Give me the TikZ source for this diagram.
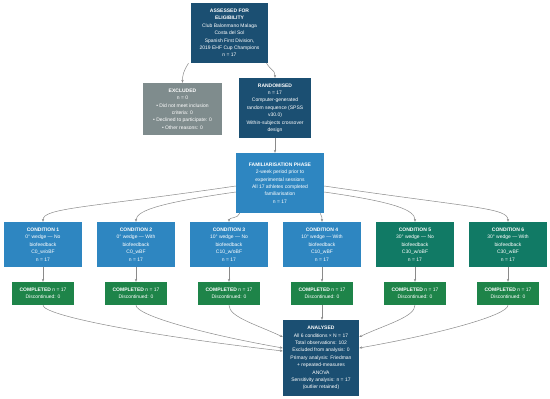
\documentclass[tikz,border=0pt]{standalone}
\usepackage{fontspec}
\setmainfont{Liberation Sans}
\usetikzlibrary{arrows.meta}
\definecolor{navy}{HTML}{1B4F72}
\definecolor{exgray}{HTML}{7F8C8D}
\definecolor{condblue}{HTML}{2E86C1}
\definecolor{condgreen}{HTML}{117A65}
\definecolor{compgreen}{HTML}{1E8449}
\definecolor{linegray}{HTML}{8A8A8A}
\begin{document}
\begin{tikzpicture}[x=1pt,y=-1pt,
  base/.style={draw=none, text=white, align=center, inner sep=1pt,
    font=\fontsize{5}{7.4}\selectfont},
  navybox/.style={base, fill=navy},
  exbox/.style={base, fill=exgray},
  condbox/.style={base, fill=condblue, minimum width=78pt, minimum height=45pt},
  condgbox/.style={base, fill=condgreen, minimum width=78pt, minimum height=45pt},
  compbox/.style={base, fill=compgreen, minimum width=62pt, minimum height=23pt},
  conn/.style={draw=linegray, line width=0.5pt, -{Stealth[length=3pt,width=2.4pt]}}
]
\useasboundingbox (0,0) rectangle (550,399);

\node[navybox, minimum width=77pt, minimum height=60pt] (top) at (229.5,33)
  {\textbf{ASSESSED FOR}\\\textbf{ELIGIBILITY}\\Club Balonmano Malaga\\Costa del Sol\\Spanish First Division,\\2019 EHF Cup Champions\\n = 17};

\node[exbox, minimum width=79pt, minimum height=52pt] (excl) at (182.5,109)
  {\textbf{EXCLUDED}\\n = 0\\• Did not meet inclusion\\criteria: 0\\• Declined to participate: 0\\• Other reasons: 0};

\node[navybox, minimum width=72pt, minimum height=60pt] (rand) at (275,108)
  {\textbf{RANDOMISED}\\n = 17\\Computer-generated\\random sequence (SPSS\\v30.0)\\Within-subjects crossover\\design};

\node[base, fill=condblue, minimum width=88pt, minimum height=60pt] (fam) at (280,183)
  {\textbf{FAMILIARISATION PHASE}\\2-week period prior to\\experimental sessions\\All 17 athletes completed\\familiarisation\\n = 17};

\node[condbox] (c1) at (43,244.5) {\textbf{CONDITION 1}\\0° wedge — No\\biofeedback\\C0\_w/oBF\\n = 17};
\node[condbox] (c2) at (136,244.5) {\textbf{CONDITION 2}\\0° wedge — With\\biofeedback\\C0\_wBF\\n = 17};
\node[condbox] (c3) at (229,244.5) {\textbf{CONDITION 3}\\10° wedge — No\\biofeedback\\C10\_w/oBF\\n = 17};
\node[condbox] (c4) at (322,244.5) {\textbf{CONDITION 4}\\10° wedge — With\\biofeedback\\C10\_wBF\\n = 17};
\node[condgbox] (c5) at (415,244.5) {\textbf{CONDITION 5}\\30° wedge — No\\biofeedback\\C30\_w/oBF\\n = 17};
\node[condgbox] (c6) at (508,244.5) {\textbf{CONDITION 6}\\30° wedge — With\\biofeedback\\C30\_wBF\\n = 17};

\foreach \i/\x in {1/43,2/136,3/229,4/322,5/415,6/508}{
  \node[compbox] (k\i) at (\x,293.5) {\textbf{COMPLETED} n = 17\\Discontinued: 0};
}

\node[navybox, minimum width=76pt, minimum height=76pt] (an) at (321,358)
  {\textbf{ANALYSED}\\All 6 conditions × N = 17\\Total observations: 102\\Excluded from analysis: 0\\Primary analysis: Friedman\\+ repeated-measures\\ANOVA\\Sensitivity analysis: n = 17\\(outlier retained)};

% top to excluded / randomised
\draw[conn] ([xshift=-41pt]top.south) .. controls +(-5,8) and +(0,-8) .. (excl.north);
\draw[conn] ([xshift=37pt]top.south) .. controls +(5,8) and +(0,-8) .. (rand.north);
\draw[conn] (rand.south) -- ([xshift=-5pt]fam.north);

% familiarisation to conditions
\draw[conn] ([yshift=-3pt]fam.west) .. controls +(-150,22) and +(0,-14) .. (c1.north);
\draw[conn] ([yshift=-9pt]fam.west) .. controls +(-70,10) and +(0,-12) .. (c2.north);
\draw[conn] ([xshift=4pt]fam.south west) .. controls +(-2,6) and +(0,-5) .. (c3.north);
\draw[conn] ([xshift=-4pt]fam.south east) .. controls +(2,5) and +(0,-5) .. (c4.north);
\draw[conn] ([yshift=-9pt]fam.east) .. controls +(70,10) and +(0,-12) .. (c5.north);
\draw[conn] ([yshift=-3pt]fam.east) .. controls +(150,22) and +(0,-14) .. (c6.north);

% conditions to completed
\foreach \i in {1,...,6}{ \draw[conn] (c\i.south) -- (k\i.north); }

% completed to analysed
\draw[conn] (k1.south) .. controls +(0,10) and +(-140,-16) .. ([yshift=7pt]an.west);
\draw[conn] (k2.south) .. controls +(0,10) and +(-80,-14) .. ([yshift=10pt]an.west);
\draw[conn] (k3.south) .. controls +(0,12) and +(-25,-12) .. ([yshift=21pt]an.west);
\draw[conn] (k4.south) -- (k4.south |- an.north);
\draw[conn] (k5.south) .. controls +(0,12) and +(25,-12) .. ([yshift=21pt]an.east);
\draw[conn] (k6.south) .. controls +(0,10) and +(80,-14) .. ([yshift=10pt]an.east);
\end{tikzpicture}
\end{document}
